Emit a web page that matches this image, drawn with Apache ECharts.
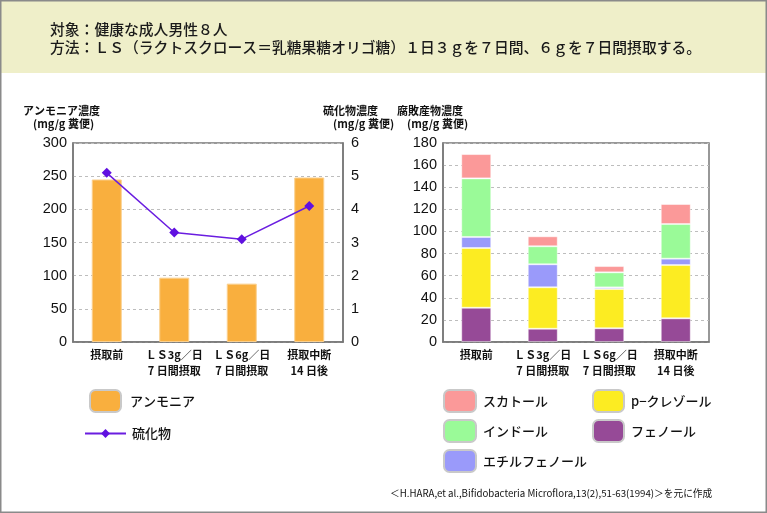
<!DOCTYPE html>
<html><head><meta charset="utf-8">
<script src="https://cdn.jsdelivr.net/npm/echarts@6/dist/echarts.min.js"></script>
<style>html,body{margin:0;padding:0;background:#fff}#c{width:767px;height:513px}</style>
</head><body><div id="c"></div>
<script>
const categories = ['摂取前', 'ＬＳ3g／日\n7 日間摂取', 'ＬＳ6g／日\n7 日間摂取', '摂取中断\n14 日後'];
const ammonia = [245, 97, 88, 248];
const sulfide = [5.1, 3.3, 3.1, 4.1];
const phenol = [31, 12, 12.4, 21.4];
const pCresol = [54, 37.5, 35.5, 48.2];
const ethylphenol = [10, 20.8, 1.5, 5.8];
const indole = [53, 16.3, 13.6, 31.3];
const skatole = [22, 9, 5.7, 18.1];
const titleLines = ['対象：健康な成人男性８人', '方法：ＬＳ（ラクトスクロース＝乳糖果糖オリゴ糖）１日３ｇを７日間、６ｇを７日間摂取する。'];
const sourceText = '＜H.HARA,et al.,Bifidobacteria Microflora,13(2),51-63(1994)＞を元に作成';

const FONT = '"Noto Sans CJK JP", "Noto Sans", sans-serif';
const NUMFONT = '"Liberation Sans", Arial, sans-serif';
const chart = echarts.init(document.getElementById('c'));
const axisLabelNum = { color: '#111', fontSize: 14.5, fontFamily: NUMFONT };
const catLabel = { color: '#111', fontSize: 11, fontWeight: 'bold', fontFamily: FONT, lineHeight: 16, margin: 5, interval: 0 };
const split = { show: true, lineStyle: { color: '#bdbdbd', type: [3, 3], width: 1 } };
const axLine = { show: true, lineStyle: { color: '#777', width: 1.5 } };
const segBorder = { borderColor: 'rgba(255,255,255,0.45)', borderWidth: 1 };
const legendItem = { borderColor: '#c9c9c9', borderWidth: 2 };
const legendText = { color: '#111', fontSize: 13, fontWeight: 500, fontFamily: FONT, padding: [0, 0, 0, 2] };

function axisTitle(x, y, l1, l2) {
  return [
    { type: 'text', left: x, top: y, style: { text: l1, font: 'bold 11px ' + FONT, fill: '#111' } },
    { type: 'text', left: x + 10, top: y + 13, style: { text: l2, font: 'bold 11px ' + FONT, fill: '#111' } }
  ];
}

chart.setOption({
  animation: false,
  graphic: [
    { type: 'rect', shape: { x: 0, y: 0, width: 767, height: 73 }, style: { fill: '#efefc9' }, silent: true },
    { type: 'rect', shape: { x: 0.75, y: 0.75, width: 765.5, height: 511.5 }, style: { fill: 'none', stroke: '#8a8a8a', lineWidth: 1.5 }, silent: true },
    { type: 'text', left: 50, top: 22, style: { text: titleLines[0], font: '500 14.8px ' + FONT, fill: '#1a1a1a' } },
    { type: 'text', left: 50, top: 40, style: { text: titleLines[1], font: '500 14.8px ' + FONT, fill: '#1a1a1a' } },
    ...axisTitle(23, 105, 'アンモニア濃度', '(mg/g 糞便)'),
    ...axisTitle(323, 105, '硫化物濃度', '(mg/g 糞便)'),
    ...axisTitle(397, 105, '腐敗産物濃度', '(mg/g 糞便)'),
    { type: 'text', left: 390, top: 488, style: { text: sourceText, font: '9.7px ' + FONT, fill: '#111' } }
  ],
  grid: [
    { left: 73, right: 424, top: 143, bottom: 171, show: true, borderColor: '#777', borderWidth: 1.5, backgroundColor: 'transparent' },
    { left: 443, right: 58, top: 143, bottom: 171, show: true, borderColor: '#777', borderWidth: 1.5, backgroundColor: 'transparent' }
  ],
  xAxis: [
    { type: 'category', gridIndex: 0, data: categories, axisTick: { show: false }, axisLine: axLine, axisLabel: catLabel },
    { type: 'category', gridIndex: 1, data: categories, axisTick: { show: false }, axisLine: axLine, axisLabel: catLabel }
  ],
  yAxis: [
    { type: 'value', gridIndex: 0, min: 0, max: 300, interval: 50, axisLine: axLine, axisTick: { show: false }, axisLabel: Object.assign({ margin: 6 }, axisLabelNum), splitLine: split },
    { type: 'value', gridIndex: 0, position: 'right', min: 0, max: 6, interval: 1, axisLine: axLine, axisTick: { show: false }, axisLabel: Object.assign({ margin: 8 }, axisLabelNum), splitLine: { show: false } },
    { type: 'value', gridIndex: 1, min: 0, max: 180, interval: 20, axisLine: axLine, axisTick: { show: false }, axisLabel: Object.assign({ margin: 6 }, axisLabelNum), splitLine: split }
  ],
  legend: [
    { left: 89, top: 389, padding: 0, itemWidth: 31, itemHeight: 22, data: ['アンモニア'], itemStyle: legendItem, textStyle: Object.assign({}, legendText, { padding: [0, 0, 0, 4] }) },
    { left: 84, top: 427, padding: 0, itemWidth: 41, itemHeight: 11, data: ['硫化物'], textStyle: Object.assign({}, legendText, { padding: [0, 0, 0, 1] }) },
    { left: 443, top: 389, padding: 0, orient: 'vertical', itemWidth: 32, itemHeight: 22, itemGap: 6, data: ['スカトール', 'インドール', 'エチルフェノール'], itemStyle: legendItem, textStyle: legendText },
    { left: 592, top: 389, padding: 0, orient: 'vertical', itemWidth: 31, itemHeight: 22, itemGap: 6, data: ['p−クレゾール', 'フェノール'], itemStyle: legendItem, textStyle: legendText }
  ],
  series: [
    { name: 'アンモニア', type: 'bar', xAxisIndex: 0, yAxisIndex: 0, data: ammonia, barWidth: 30, itemStyle: { color: '#f9af3e', borderColor: '#fbd08e', borderWidth: 1 } },
    { name: '硫化物', type: 'line', xAxisIndex: 0, yAxisIndex: 1, data: sulfide, symbol: 'diamond', symbolSize: 10, lineStyle: { color: '#6a1de0', width: 1.5 }, itemStyle: { color: '#6010e0' } },
    { name: 'フェノール', type: 'bar', stack: 's', xAxisIndex: 1, yAxisIndex: 2, data: phenol, barWidth: 30, itemStyle: Object.assign({ color: '#964a97' }, segBorder) },
    { name: 'p−クレゾール', type: 'bar', stack: 's', xAxisIndex: 1, yAxisIndex: 2, data: pCresol, barWidth: 30, itemStyle: Object.assign({ color: '#fcec22' }, segBorder) },
    { name: 'エチルフェノール', type: 'bar', stack: 's', xAxisIndex: 1, yAxisIndex: 2, data: ethylphenol, barWidth: 30, itemStyle: Object.assign({ color: '#9a9afa' }, segBorder) },
    { name: 'インドール', type: 'bar', stack: 's', xAxisIndex: 1, yAxisIndex: 2, data: indole, barWidth: 30, itemStyle: Object.assign({ color: '#9afa98' }, segBorder) },
    { name: 'スカトール', type: 'bar', stack: 's', xAxisIndex: 1, yAxisIndex: 2, data: skatole, barWidth: 30, itemStyle: Object.assign({ color: '#fb9999' }, segBorder) }
  ]
});
</script></body></html>
